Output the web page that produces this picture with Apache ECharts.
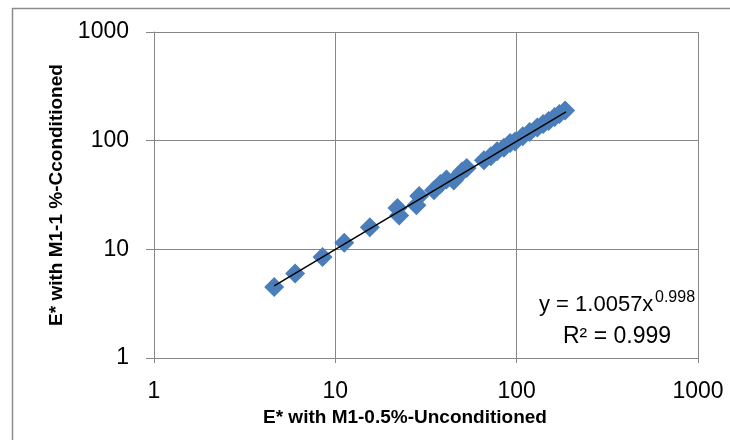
<!DOCTYPE html>
<html>
<head>
<meta charset="utf-8">
<script src="https://cdn.jsdelivr.net/npm/echarts@6/dist/echarts.min.js"></script>
<style>
  html, body { margin: 0; padding: 0; background: #fff; }
  #chart { width: 730px; height: 440px; }
</style>
</head>
<body>
<div id="chart"></div>
<script>
// values
const xUncond = [4.6, 6.0, 8.5, 11.2, 15.5, 22, 22.5, 28, 29, 35, 38, 41, 45, 50, 53, 66, 72, 78, 85, 92, 98, 108, 118, 130, 140, 150, 162, 172, 185];
const yCond   = [4.5, 6.0, 8.5, 11.5, 16, 24, 20.5, 25.5, 31, 35, 40, 44, 43, 52, 56, 66, 72, 80, 86, 95, 98, 110, 120, 132, 142, 152, 165, 176, 190];
const trendX = [4.6, 187];
const trendY = [4.6, 184];
const ticks = [1, 10, 100, 1000];

const pts = xUncond.map((x, i) => [x, yCond[i]]);
const trend = trendX.map((x, i) => [x, trendY[i]]);

const chart = echarts.init(document.getElementById('chart'));
const gridCol = '#878787';
const font = 'Liberation Sans';

chart.setOption({
  backgroundColor: '#fff',
  animation: false,
  grid: { left: 154, right: 32, top: 32, bottom: 82, show: false },
  xAxis: {
    type: 'log', logBase: 10, min: ticks[0], max: ticks[ticks.length - 1],
    name: 'E* with M1-0.5%-Unconditioned',
    nameLocation: 'middle', nameGap: 44,
    nameTextStyle: { fontFamily: font, fontWeight: 'bold', fontSize: 19, color: '#000', padding: [0, 42, 0, 0] },
    axisLine: { lineStyle: { color: gridCol, width: 1 } },
    axisTick: { show: true, length: 5, lineStyle: { color: gridCol } },
    axisLabel: { fontFamily: font, fontSize: 23, color: '#000', margin: 22, formatter: v => String(v) },
    splitLine: { show: true, lineStyle: { color: gridCol, width: 1 } }
  },
  yAxis: {
    type: 'log', logBase: 10, min: ticks[0], max: ticks[ticks.length - 1],
    name: 'E* with M1-1 %-Cconditioned',
    nameLocation: 'middle', nameGap: 88, nameRotate: 90,
    nameTextStyle: { fontFamily: font, fontWeight: 'bold', fontSize: 19, color: '#000' },
    axisLine: { show: true, lineStyle: { color: gridCol, width: 1 } },
    axisTick: { show: true, length: 8, lineStyle: { color: gridCol } },
    axisLabel: { fontFamily: font, fontSize: 23, color: '#000', margin: 25, formatter: v => String(v) },
    splitLine: { show: true, lineStyle: { color: gridCol, width: 1 } }
  },
  graphic: [
    {
      type: 'rect', silent: true,
      shape: { x: 12.5, y: 8.5, width: 760, height: 480 },
      style: { fill: null, stroke: '#8c8c8c', lineWidth: 1.5 }
    },
    {
      type: 'text', x: 539, y: 305,
      style: { text: 'y = 1.0057x', fontFamily: font, fontSize: 22, fill: '#000', verticalAlign: 'middle' }
    },
    {
      type: 'text', x: 655, y: 298,
      style: { text: '0.998', fontFamily: font, fontSize: 16, fill: '#000', verticalAlign: 'middle' }
    },
    {
      type: 'text', x: 563, y: 337,
      style: { text: 'R² = 0.999', fontFamily: font, fontSize: 23, fill: '#000', verticalAlign: 'middle' }
    }
  ],
  series: [
    {
      type: 'scatter', data: pts,
      symbol: 'diamond', symbolSize: 20,
      itemStyle: { color: '#4A7EBB', opacity: 1 }
    },
    {
      type: 'line', data: trend, showSymbol: false, symbol: 'none',
      lineStyle: { color: '#000', width: 1.5 }, z: 5
    }
  ]
});
</script>
</body>
</html>
